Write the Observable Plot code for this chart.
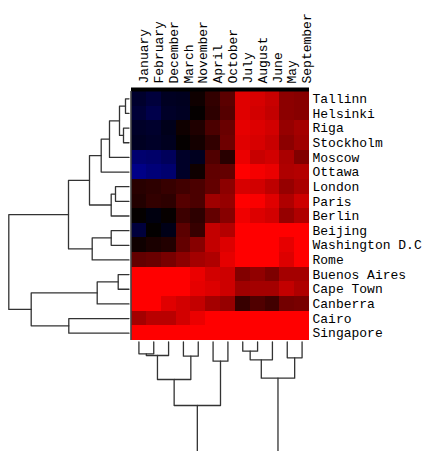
<!DOCTYPE html>
<html><head><meta charset="utf-8">
<script src="https://cdn.jsdelivr.net/npm/d3@7"></script>
<script src="https://cdn.jsdelivr.net/npm/@observablehq/plot@0.6"></script>
<style>body{margin:0;background:#fff} #chart svg{display:block;overflow:hidden}</style>
</head><body><div id="chart"></div>
<script>
// Column (month) order as in the clustered heatmap
const months = ["January","February","December","March","November","April","October","July","August","June","May","September"];
// Row (city) order
const cities = ["Tallinn","Helsinki","Riga","Stockholm","Moscow","Ottawa","London","Paris","Berlin","Beijing","Washington D.C","Rome","Buenos Aires","Cape Town","Canberra","Cairo","Singapore"];

// Values per city, in month order above (approx. mean temperature, °C)
const tallinn    = [-3.5,-4.7,-2.7,-2.4, 1.2, 3.9, 7.1,17.6,16.9,15.7,11.0,10.6];
const helsinki   = [-4.3,-5.9,-3.1,-2.7, 0.4, 3.5, 6.7,17.6,16.5,15.3,11.0,10.6];
const riga       = [-3.1,-3.5,-2.0, 1.2, 2.4, 5.9, 8.2,18.0,17.3,16.5,11.8,12.9];
const stockholm  = [-2.7,-3.1,-2.4, 0.4, 1.6, 3.9, 8.6,17.6,16.9,15.7,11.0,12.5];
const moscow     = [-8.6,-8.2,-7.1,-3.1,-2.4, 6.3, 3.1,18.4,15.7,16.5,13.3,10.2];
const ottawa     = [-10.6,-9.4,-8.6,-3.1,1.2, 7.5, 7.8,21.0,19.2,18.4,13.7,14.1];
const london     = [ 3.1, 3.5, 4.3, 5.1, 5.9, 7.8,11.0,16.9,16.5,14.9,11.8,13.3];
const paris      = [ 2.7, 3.9, 3.5, 6.7, 5.9,12.5,11.8,20.5,19.6,17.6,13.7,16.1];
const berlin     = [ 0.3,-1.2, 0.5, 4.7, 3.5, 7.8,10.6,18.8,17.3,16.5,11.8,13.7];
const beijing    = [-4.7, 0.2,-1.8, 7.1, 4.3,15.3,14.1,26.0,25.0,25.0,21.0,21.0];
const washington = [ 1.2, 2.0, 2.7, 7.8,10.6,15.3,17.3,27.0,26.0,25.0,18.0,22.0];
const rome       = [ 7.8, 8.2, 9.4,11.0,12.9,13.7,18.0,25.0,25.0,22.0,17.3,22.0];
const buenosAires= [24.0,23.0,22.0,21.0,18.4,16.5,16.1,10.2,11.4, 9.8,12.9,12.9];
const capeTown   = [21.0,21.0,20.5,20.2,18.0,17.3,16.1,12.5,12.9,12.9,15.3,13.7];
const canberra   = [21.0,20.5,17.6,16.5,15.3,12.9,11.8, 4.3, 6.3, 5.1, 9.0, 9.4];
const cairo      = [12.9,14.5,14.5,16.5,18.4,21.0,23.0,28.0,28.0,27.0,25.0,26.0];
const singapore  = [26.5,27.0,26.5,27.5,27.0,28.0,27.5,28.0,28.0,28.0,28.5,27.5];
const values = [tallinn,helsinki,riga,stockholm,moscow,ottawa,london,paris,berlin,beijing,washington,rome,buenosAires,capeTown,canberra,cairo,singapore];

// Row dendrogram merges: [childA, childB, height]; numbers refer to earlier merges
const rowMerges = [
  ["Tallinn","Helsinki",5],
  ["Riga","Stockholm",7],
  [0,1,11],
  [2,"Moscow",21],
  [3,"Ottawa",29.3],
  ["London","Paris",15],
  [5,"Berlin",19.3],
  [4,6,41],
  ["Beijing","Washington D.C",19.3],
  [8,"Rome",38.3],
  [7,9,62],
  ["Buenos Aires","Cape Town",12.3],
  [11,"Canberra",33.3],
  ["Cairo","Singapore",61.7],
  [12,13,99.3],
  [10,14,121.7]
];
// Column dendrogram merges
const colMerges = [
  ["January","February",13.3],
  [0,"December",15],
  ["March","November",15.7],
  [1,2,39],
  ["April","October",20.7],
  [3,4,65],
  ["July","August",10.7],
  [6,"June",19.3],
  ["May","September",17.3],
  [7,8,37.7],
  [5,9,150]
];

const W = 433, H = 451;
const mL = 131, mR = 124, mT = 91, mB = 111;
const pxX = (W - mL - mR) / months.length;
const pxY = (H - mT - mB) / cities.length;
const leafGap = 1.5;

function dendro(merges, leaves) {
  const nodes = merges.map(() => null);
  const segs = [];
  const info = c => typeof c === "number" ? nodes[c] : {pos: leaves.indexOf(c) + 0.5, h: leafGap};
  merges.forEach(([a, b, h], k) => {
    const A = info(a), B = info(b);
    segs.push({id: k, h: A.h, p: A.pos}, {id: k, h: h, p: A.pos}, {id: k, h: h, p: B.pos}, {id: k, h: B.h, p: B.pos});
    nodes[k] = {pos: (A.pos + B.pos) / 2, h};
  });
  return segs;
}
const rowSegs = dendro(rowMerges, cities);
const colSegs = dendro(colMerges, months);

const cells = [];
cities.forEach((c, i) => months.forEach((m, j) => cells.push({city: c, month: m, i, j, v: values[i][j]})));

const font = "'Liberation Mono', 'DejaVu Sans Mono', monospace";
const plot = Plot.plot({
  width: W, height: H,
  marginLeft: mL, marginRight: mR, marginTop: mT, marginBottom: mB,
  style: {fontFamily: font, fontSize: "13px", color: "black", background: "white"},
  x: {domain: [0, months.length], axis: null},
  y: {domain: [0, cities.length], reverse: true, axis: null},
  color: {type: "linear", domain: [-20, 0, 20], range: ["blue", "black", "red"], interpolate: "rgb", clamp: true},
  marks: [
    Plot.rect(cells, {x1: "j", x2: d => d.j + 1, y1: "i", y2: d => d.i + 1, fill: "v", shapeRendering: "crispEdges"}),
    Plot.ruleY([0], {x1: 0, x2: months.length, dy: -2, stroke: "black", strokeWidth: 4}),
    Plot.ruleX([0], {y1: 0, y2: cities.length, dx: -0.5, stroke: "#444", strokeWidth: 1.6}),
    Plot.line(rowSegs, {x: d => -(d.h + 1) / pxX, y: "p", z: "id", stroke: "#333", strokeWidth: 1.3}),
    Plot.line(colSegs, {x: "p", y: d => cities.length + d.h / pxY, z: "id", stroke: "#333", strokeWidth: 1.3}),
    Plot.text(months, {x: (d, i) => i + 0.5, frameAnchor: "top", dy: -8, rotate: -90, textAnchor: "start", fill: "black"}),
    Plot.text(cities, {y: (d, i) => i + 0.5, frameAnchor: "right", dx: 3, textAnchor: "start", fill: "black"})
  ]
});
document.getElementById("chart").append(plot);
</script>
</body></html>
